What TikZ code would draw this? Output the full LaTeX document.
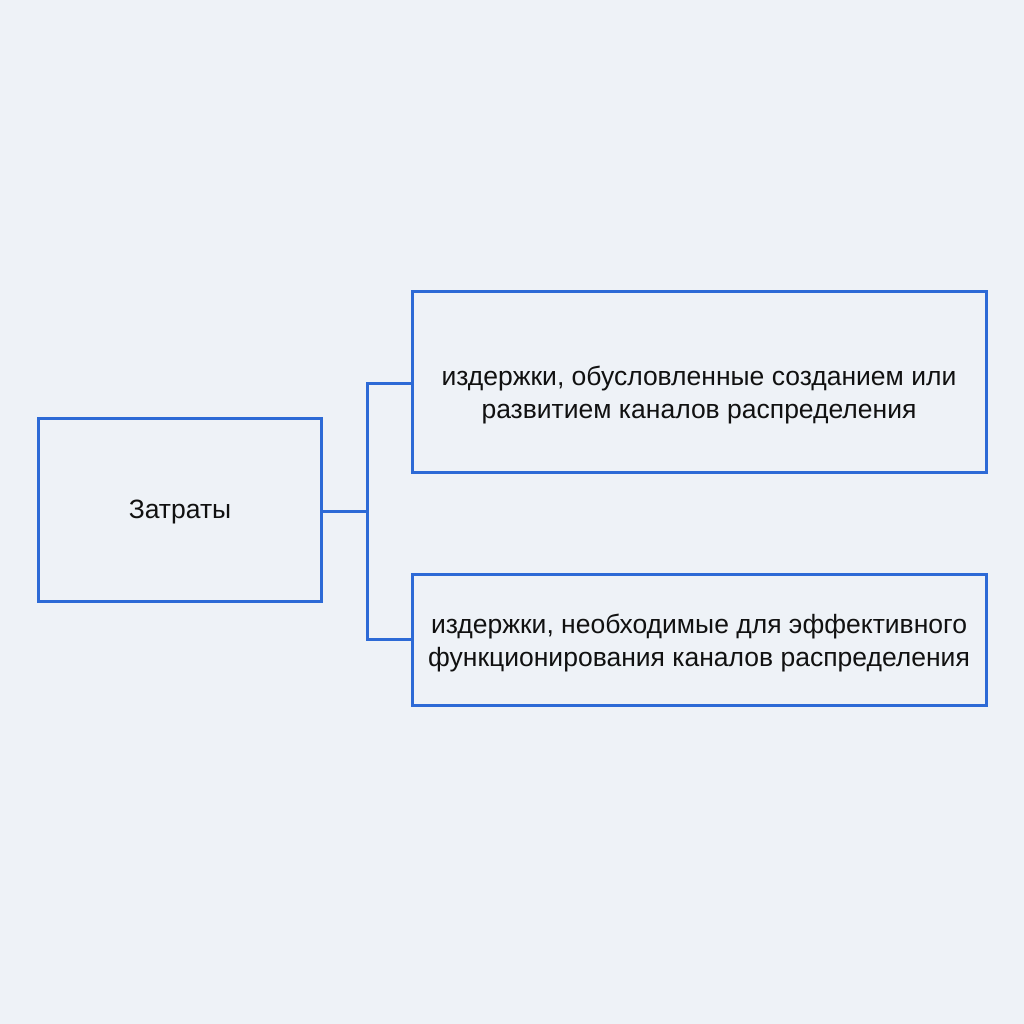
\documentclass[tikz,border=0pt]{standalone}
\usepackage{fontspec}
\setmainfont{Liberation Sans}
\definecolor{bg}{HTML}{EEF2F7}
\definecolor{ln}{HTML}{2D6AD6}
\definecolor{tx}{HTML}{111111}
\begin{document}
\begin{tikzpicture}[x=1pt,y=-1pt,
  boxs/.style={draw=ln,line width=3pt,fill=none,inner sep=0pt},
  lbl/.style={text=tx,align=center,inner sep=0pt,font=\fontsize{26.5}{33}\selectfont},
  conn/.style={draw=ln,line width=3pt}]
\fill[bg] (0,0) rectangle (1024,1024);
\useasboundingbox (0,0) rectangle (1024,1024);
\node[boxs,minimum width=283pt,minimum height=183pt] (a) at (179.5,509.5) {};
\node[boxs,minimum width=574pt,minimum height=181pt] (b) at (699,381.5) {};
\node[boxs,minimum width=574pt,minimum height=131pt] (c) at (699,639.5) {};
\node[lbl] (at) at (180,512) {Затраты};
\node[lbl] (bt) at (699,395) {издержки, обусловленные созданием или\\развитием каналов распределения};
\node[lbl] (ct) at (699,643) {издержки, необходимые для эффективного\\функционирования каналов распределения};
\coordinate (j) at (367,511);
\draw[conn] (a.east |- j) -- (j);
\draw[conn] (b.west |- 0,383) -| (j) |- (c.west |- 0,639);
\end{tikzpicture}
\end{document}
